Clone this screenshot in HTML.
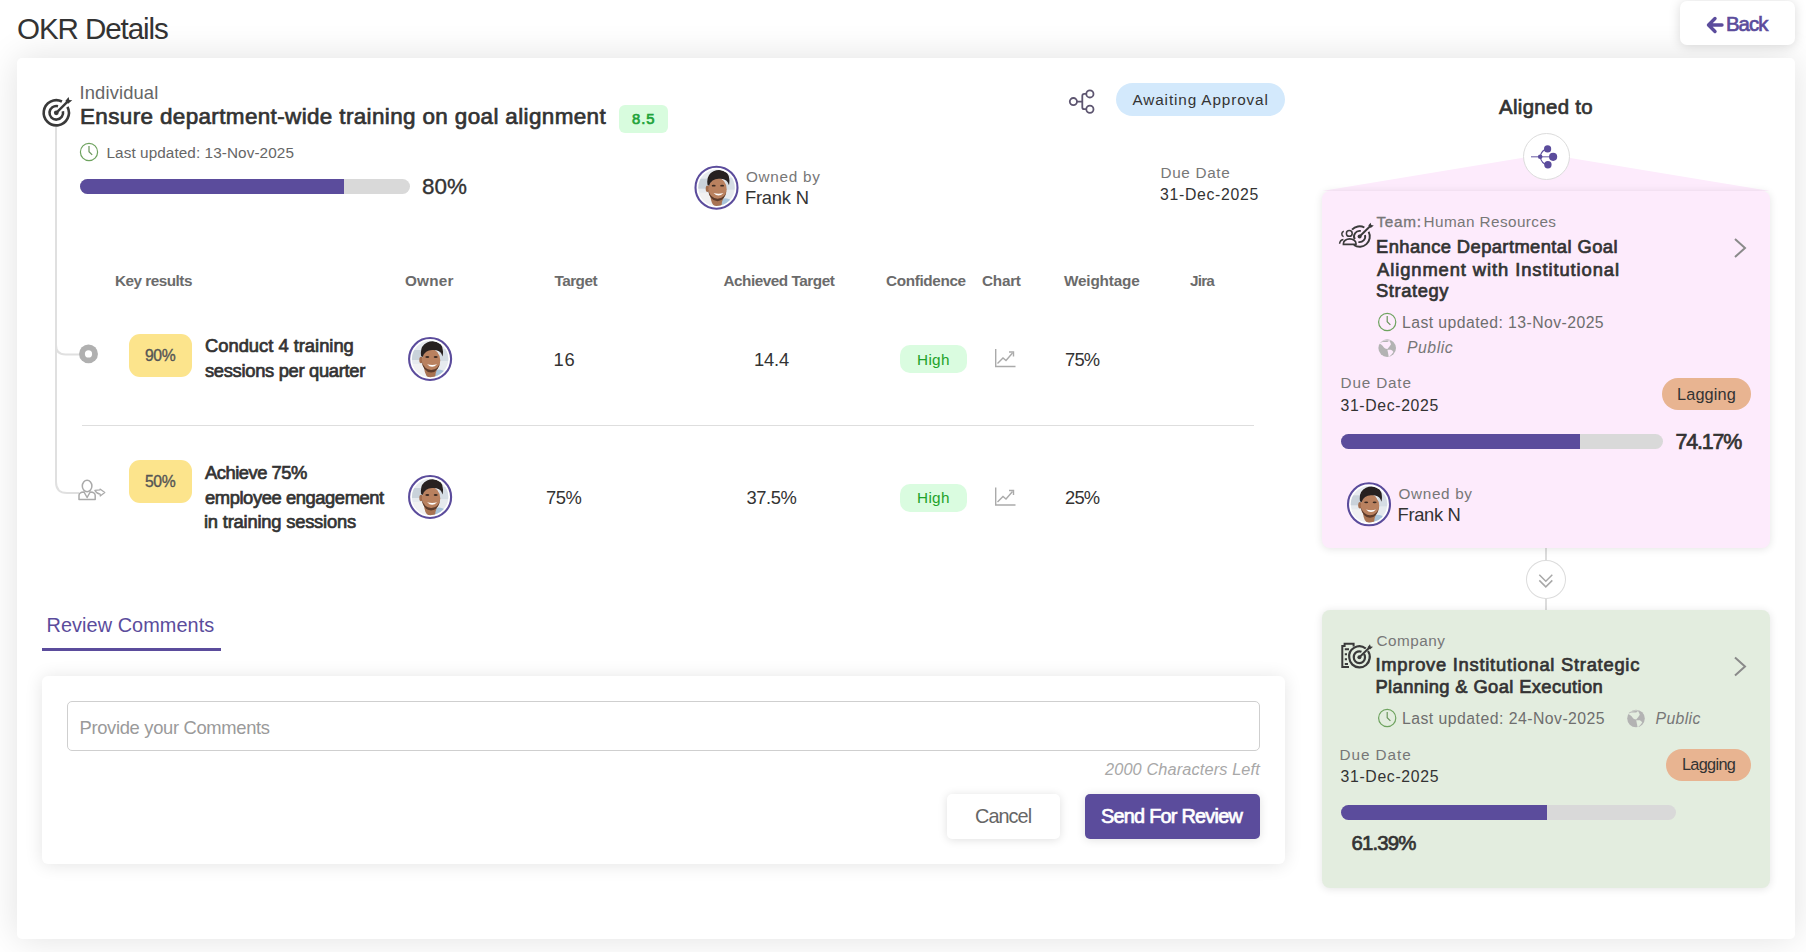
<!DOCTYPE html>
<html><head><meta charset="utf-8"><title>OKR Details</title>
<style>
html,body{margin:0;padding:0;}
body{width:1806px;height:952px;position:relative;overflow:hidden;background:#fff;font-family:"Liberation Sans", sans-serif;}
.a{position:absolute;box-sizing:border-box;}
.t{position:absolute;white-space:nowrap;}
svg{position:absolute;left:0;top:0;overflow:visible;}
</style></head><body>

<div class="a" style="left:17px;top:58px;width:1778px;height:881px;background:#fff;border-radius:5px;box-shadow:0 0 36px rgba(0,0,0,0.12);"></div>
<div class="a" style="left:1680px;top:1px;width:115px;height:44px;background:#fff;border-radius:7px;box-shadow:0 1px 12px rgba(0,0,0,0.15);"></div>
<div class="a" style="left:619px;top:105px;width:49px;height:28px;background:#d8fcde;border-radius:6px;"></div>
<div class="a" style="left:80px;top:179px;width:330px;height:15px;background:#d9d9d9;border-radius:8px;overflow:hidden;"><div class="a" style="left:0;top:0;width:264px;height:15px;background:#5b4c9c;"></div></div>
<div class="a" style="left:1116px;top:83px;width:169px;height:33px;background:#d3e9fc;border-radius:17px;"></div>
<div class="a" style="left:82px;top:425px;width:1172px;height:1px;background:#dedede;"></div>
<div class="a" style="left:129px;top:334px;width:63px;height:43px;background:#fce48c;border-radius:11px;"></div>
<div class="a" style="left:129px;top:460px;width:63px;height:43px;background:#fce48c;border-radius:11px;"></div>
<div class="a" style="left:900px;top:345px;width:67px;height:28px;background:#dafce0;border-radius:10px;"></div>
<div class="a" style="left:900px;top:484px;width:67px;height:28px;background:#dafce0;border-radius:10px;"></div>
<div class="a" style="left:42px;top:648px;width:179px;height:3px;background:#5b4c9c;"></div>
<div class="a" style="left:42px;top:676px;width:1243px;height:188px;background:#fff;border-radius:6px;box-shadow:0 1px 18px rgba(0,0,0,0.11);"></div>
<div class="a" style="left:67px;top:701px;width:1193px;height:50px;background:#fff;border:1.5px solid #cfcfcf;border-radius:5px;"></div>
<div class="a" style="left:947px;top:794px;width:113px;height:45px;background:#fff;border-radius:5px;box-shadow:0 1px 10px rgba(0,0,0,0.13);"></div>
<div class="a" style="left:1085px;top:794px;width:175px;height:45px;background:#5b4c9c;border-radius:5px;box-shadow:0 1px 10px rgba(0,0,0,0.12);"></div>
<svg width="1806" height="952" viewBox="0 0 1806 952">
<polygon points="1546,154 1770,191 1322,191" fill="#fdebfc"/>
<path d="M1546,548 V610" stroke="#d0d0d0" stroke-width="1.5"/>
</svg>
<div class="a" style="left:1322px;top:191px;width:448px;height:357px;background:#fdebfc;border-radius:8px;box-shadow:0 1px 9px rgba(0,0,0,0.11);"></div>
<div class="a" style="left:1322px;top:610px;width:448px;height:278px;background:#e3eddf;border-radius:8px;box-shadow:0 1px 9px rgba(0,0,0,0.11);"></div>
<div class="a" style="left:1522.5px;top:133px;width:47px;height:47px;background:#fff;border:1px solid #dcdcdc;border-radius:50%;"></div>
<div class="a" style="left:1526px;top:559.5px;width:40px;height:39.5px;background:#fff;border:1px solid #dcdcdc;border-radius:50%;"></div>
<div class="a" style="left:1662px;top:378px;width:89px;height:32px;background:#e8b491;border-radius:16px;"></div>
<div class="a" style="left:1666px;top:749px;width:85px;height:32px;background:#e8b491;border-radius:16px;"></div>
<div class="a" style="left:1341px;top:434px;width:322px;height:15px;background:#d9d9d9;border-radius:8px;overflow:hidden;"><div class="a" style="left:0;top:0;width:239px;height:15px;background:#5b4c9c;"></div></div>
<div class="a" style="left:1341px;top:805px;width:335px;height:15px;background:#d9d9d9;border-radius:8px;overflow:hidden;"><div class="a" style="left:0;top:0;width:206px;height:15px;background:#5b4c9c;"></div></div>
<svg width="1806" height="952" viewBox="0 0 1806 952"><path d="M1715,18.5 L1708.5,25 L1715,31.5 M1709,25 H1722" fill="none" stroke="#5b4c9c" stroke-width="3.4" stroke-linecap="round" stroke-linejoin="round"/>
<g transform="translate(56.3,112.8) scale(1.0)" fill="none" stroke="#3a3a3a">
<path d="M11.15,-5.86 A12.6,12.6 0 1 1 5.64,-11.27" stroke-width="2.6"/>
<path d="M6.61,-1.59 A6.8,6.8 0 1 1 1.69,-6.59" stroke-width="2.6"/>
<circle r="2.4" fill="#3a3a3a" stroke="none"/>
<path d="M0,0 L11.5,-11.5" stroke-width="2.4"/>
<path d="M9,-11.8 L12.3,-15.8 L13,-12.8 L16,-12.5 L11.8,-9Z" fill="#3a3a3a" stroke="none"/>
</g>
<path d="M56,127 V482 Q56,493 67,493 H79 M56,345 Q56,354.5 65.5,354.5 H80" fill="none" stroke="#e0e0e0" stroke-width="2"/>
<g transform="translate(89,152)"><circle r="8.6" fill="none" stroke="#6ea35f" stroke-width="1.2"/>
<path d="M0,-5.9 V-0.2 L3.2,2.9" fill="none" stroke="#6a955c" stroke-width="1.2"/></g>
<g transform="translate(716.5,187.7)">
<circle r="21" fill="#fff" stroke="#5b4c9c" stroke-width="2.1"/>
<clipPath id="av1"><circle r="18.2"/></clipPath>
<g clip-path="url(#av1)">
<rect x="-19" y="-19" width="38" height="38" fill="#e6eaee"/>
<rect x="-19" y="-9" width="12" height="10" fill="#c9d2da"/>
<rect x="-19" y="5" width="16" height="14" fill="#f1f1f1"/>
<rect x="9" y="-10" width="10" height="12" fill="#d5dde4"/>
<path d="M0,19 L3,12 Q9,9 14,12 L18,19Z" fill="#a9c4da"/>
<path d="M-6,9 Q-5,19 1,19 L5,19 Q5,14 7,10 Z" fill="#a87352"/>
<ellipse cx="-9" cy="1" rx="1.8" ry="3.2" fill="#a26c4c"/>
<ellipse cx="1" cy="1.5" rx="9.2" ry="11.2" fill="#b9815f"/>
<path d="M-8.5,2 Q-7,13 1,13.5 Q9,13 10,2 Q9,10.5 1,11 Q-6,10.5 -8.5,2Z" fill="#5c3b2b"/>
<path d="M-3,5.2 Q2,10.2 7,5.2 Q2,6.8 -3,5.2Z" fill="#fff"/>
<ellipse cx="-2.8" cy="-2" rx="2" ry="0.9" fill="#3b2a22"/>
<ellipse cx="5.6" cy="-2" rx="2" ry="0.9" fill="#3b2a22"/>
<path d="M-9,-3 Q-10.5,-13 -3,-16.5 Q4,-19.5 10.5,-15 Q14,-11 12.5,-2.5 L11.2,-5.5 Q9,-9.5 2,-9 Q-5,-9 -7.5,-2 Z" fill="#272120"/>
</g></g>
<g fill="none" stroke="#5d5570" stroke-width="1.8"><circle cx="1073.4" cy="101.6" r="3.6"/><circle cx="1089.9" cy="93.9" r="3.6"/><circle cx="1089.9" cy="109.2" r="3.6"/><path d="M1077,101.6 H1082.3 M1086.3,93.9 H1084.3 Q1082.3,93.9 1082.3,95.9 V107.2 Q1082.3,109.2 1084.3,109.2 H1086.3"/></g>
<circle cx="88.5" cy="353.9" r="9.45" fill="#b0b0b0"/><circle cx="88.5" cy="353.9" r="3.6" fill="#fff"/>
<g fill="none" stroke="#aaa" stroke-width="1.5"><ellipse cx="87.1" cy="486" rx="4.8" ry="5.8"/><path d="M79,499.6 V495.5 Q79,492.2 84,492 L87.1,497.5 L90.2,492 Q95.2,492.2 95.2,495.5 V499.6Z" stroke-linejoin="round"/><path d="M94.8,490.4 L100,489.8 V489 L104.8,492.6 L100.2,496 V494 Q97,494 94.8,490.4Z" stroke-width="1.2" stroke-linejoin="round"/></g>
<g transform="translate(430.1,359)">
<circle r="21" fill="#fff" stroke="#5b4c9c" stroke-width="2.1"/>
<clipPath id="av2"><circle r="18.2"/></clipPath>
<g clip-path="url(#av2)">
<rect x="-19" y="-19" width="38" height="38" fill="#e6eaee"/>
<rect x="-19" y="-9" width="12" height="10" fill="#c9d2da"/>
<rect x="-19" y="5" width="16" height="14" fill="#f1f1f1"/>
<rect x="9" y="-10" width="10" height="12" fill="#d5dde4"/>
<path d="M0,19 L3,12 Q9,9 14,12 L18,19Z" fill="#a9c4da"/>
<path d="M-6,9 Q-5,19 1,19 L5,19 Q5,14 7,10 Z" fill="#a87352"/>
<ellipse cx="-9" cy="1" rx="1.8" ry="3.2" fill="#a26c4c"/>
<ellipse cx="1" cy="1.5" rx="9.2" ry="11.2" fill="#b9815f"/>
<path d="M-8.5,2 Q-7,13 1,13.5 Q9,13 10,2 Q9,10.5 1,11 Q-6,10.5 -8.5,2Z" fill="#5c3b2b"/>
<path d="M-3,5.2 Q2,10.2 7,5.2 Q2,6.8 -3,5.2Z" fill="#fff"/>
<ellipse cx="-2.8" cy="-2" rx="2" ry="0.9" fill="#3b2a22"/>
<ellipse cx="5.6" cy="-2" rx="2" ry="0.9" fill="#3b2a22"/>
<path d="M-9,-3 Q-10.5,-13 -3,-16.5 Q4,-19.5 10.5,-15 Q14,-11 12.5,-2.5 L11.2,-5.5 Q9,-9.5 2,-9 Q-5,-9 -7.5,-2 Z" fill="#272120"/>
</g></g>
<g transform="translate(430.1,497)">
<circle r="21" fill="#fff" stroke="#5b4c9c" stroke-width="2.1"/>
<clipPath id="av3"><circle r="18.2"/></clipPath>
<g clip-path="url(#av3)">
<rect x="-19" y="-19" width="38" height="38" fill="#e6eaee"/>
<rect x="-19" y="-9" width="12" height="10" fill="#c9d2da"/>
<rect x="-19" y="5" width="16" height="14" fill="#f1f1f1"/>
<rect x="9" y="-10" width="10" height="12" fill="#d5dde4"/>
<path d="M0,19 L3,12 Q9,9 14,12 L18,19Z" fill="#a9c4da"/>
<path d="M-6,9 Q-5,19 1,19 L5,19 Q5,14 7,10 Z" fill="#a87352"/>
<ellipse cx="-9" cy="1" rx="1.8" ry="3.2" fill="#a26c4c"/>
<ellipse cx="1" cy="1.5" rx="9.2" ry="11.2" fill="#b9815f"/>
<path d="M-8.5,2 Q-7,13 1,13.5 Q9,13 10,2 Q9,10.5 1,11 Q-6,10.5 -8.5,2Z" fill="#5c3b2b"/>
<path d="M-3,5.2 Q2,10.2 7,5.2 Q2,6.8 -3,5.2Z" fill="#fff"/>
<ellipse cx="-2.8" cy="-2" rx="2" ry="0.9" fill="#3b2a22"/>
<ellipse cx="5.6" cy="-2" rx="2" ry="0.9" fill="#3b2a22"/>
<path d="M-9,-3 Q-10.5,-13 -3,-16.5 Q4,-19.5 10.5,-15 Q14,-11 12.5,-2.5 L11.2,-5.5 Q9,-9.5 2,-9 Q-5,-9 -7.5,-2 Z" fill="#272120"/>
</g></g>
<g transform="translate(995,349)" fill="none" stroke="#aaa" stroke-width="1.4">
<path d="M0.7,0 V17.5 H20.5"/>
<path d="M2.5,14.5 L8,9 L11,11.5 L17.5,4"/>
<path d="M14,3 H18.5 V7.5"/></g>
<g transform="translate(995,487.5)" fill="none" stroke="#aaa" stroke-width="1.4">
<path d="M0.7,0 V17.5 H20.5"/>
<path d="M2.5,14.5 L8,9 L11,11.5 L17.5,4"/>
<path d="M14,3 H18.5 V7.5"/></g>
<g fill="#5b4c9c"><path d="M1531,156.8 H1551" stroke="#5b4c9c" stroke-width="1.1" opacity="0.85"/><path d="M1540.2,156.8 Q1541.5,149.5 1547.6,148.9 M1540.2,156.8 Q1541.5,164.2 1547.9,164.7" fill="none" stroke="#5b4c9c" stroke-width="1.1"/><circle cx="1540.2" cy="156.8" r="2.3"/><circle cx="1547.6" cy="148.9" r="3.6"/><circle cx="1553.1" cy="156.8" r="4.1"/><circle cx="1547.9" cy="164.7" r="3.7"/></g>
<g fill="none" stroke="#3a3a3a" stroke-width="1.9">
<path d="M1352.02,229.67 A10.2,10.2 0 0 1 1364.39,227.49"/>
<path d="M1368.61,231.71 A10.2,10.2 0 0 1 1353.90,244.96"/>
<path d="M1354.75,239.30 A5.6,5.6 0 0 1 1360.76,231.02"/>
<path d="M1365.01,235.05 A5.6,5.6 0 0 1 1358.44,241.98"/>
<circle cx="1359.6" cy="236.5" r="2" fill="#3a3a3a" stroke="none"/>
<path d="M1359.6,236.5 L1370.3,226" stroke-width="1.9"/>
<path d="M1368.3,225.6 L1370.6,222.8 L1371.3,225.1 L1373.8,225.4 L1370.8,228Z" fill="#3a3a3a" stroke="none"/>
<circle cx="1349.3" cy="233.4" r="2.9" stroke-width="1.5"/>
<path d="M1343.6,236.6 A2.8,2.8 0 0 1 1343.8,231.3" stroke-width="1.5"/>
<path d="M1343.4,244.4 V243.5 A6.3,4.6 0 0 1 1356,243.5 V244.4Z" stroke-width="1.6"/>
<path d="M1339.6,243.8 Q1339.8,240 1343.4,239.4" stroke-width="1.5"/>
</g>
<path d="M1735,239 L1745,248 L1735,257" fill="none" stroke="#8a8a8a" stroke-width="2"/>
<g transform="translate(1387.2,322)"><circle r="8.6" fill="none" stroke="#6ea35f" stroke-width="1.2"/>
<path d="M0,-5.9 V-0.2 L3.2,2.9" fill="none" stroke="#6a955c" stroke-width="1.2"/></g>
<g transform="translate(1387.2,348.1)"><circle r="8.8" fill="#b3b3b3"/>
<path d="M-7.6,-4.6 Q-6,-6.3 -4.2,-6.1 L0,-6.1 Q1.2,-6.6 1.9,-7.6 Q3.2,-6 3.8,-3.8 Q2.8,-2.2 1.9,-1 L0.2,1 Q-1.4,1 -2.4,0.2 Q-3.6,-0.9 -4.4,-2.2 Q-5.4,-3.4 -7.6,-4.6Z" fill="#fdebfc"/>
<path d="M0.2,1.7 L3.8,1.7 Q5.6,2.6 6.2,4 Q5.4,5.4 4.3,6.5 Q3,7.8 1.7,9 Q1.2,7.3 1,5.7 Q0.6,3.8 0.2,1.7Z" fill="#fdebfc"/>
<path d="M-6.8,-6 Q-2,-9.5 4,-7.6 L2.2,-7.2 Q-1,-8.3 -6.8,-6Z" fill="#fdebfc" opacity="0.6"/>
</g>
<g transform="translate(1369,504.3)">
<circle r="21" fill="#fff" stroke="#5b4c9c" stroke-width="2.1"/>
<clipPath id="av4"><circle r="18.2"/></clipPath>
<g clip-path="url(#av4)">
<rect x="-19" y="-19" width="38" height="38" fill="#e6eaee"/>
<rect x="-19" y="-9" width="12" height="10" fill="#c9d2da"/>
<rect x="-19" y="5" width="16" height="14" fill="#f1f1f1"/>
<rect x="9" y="-10" width="10" height="12" fill="#d5dde4"/>
<path d="M0,19 L3,12 Q9,9 14,12 L18,19Z" fill="#a9c4da"/>
<path d="M-6,9 Q-5,19 1,19 L5,19 Q5,14 7,10 Z" fill="#a87352"/>
<ellipse cx="-9" cy="1" rx="1.8" ry="3.2" fill="#a26c4c"/>
<ellipse cx="1" cy="1.5" rx="9.2" ry="11.2" fill="#b9815f"/>
<path d="M-8.5,2 Q-7,13 1,13.5 Q9,13 10,2 Q9,10.5 1,11 Q-6,10.5 -8.5,2Z" fill="#5c3b2b"/>
<path d="M-3,5.2 Q2,10.2 7,5.2 Q2,6.8 -3,5.2Z" fill="#fff"/>
<ellipse cx="-2.8" cy="-2" rx="2" ry="0.9" fill="#3b2a22"/>
<ellipse cx="5.6" cy="-2" rx="2" ry="0.9" fill="#3b2a22"/>
<path d="M-9,-3 Q-10.5,-13 -3,-16.5 Q4,-19.5 10.5,-15 Q14,-11 12.5,-2.5 L11.2,-5.5 Q9,-9.5 2,-9 Q-5,-9 -7.5,-2 Z" fill="#272120"/>
</g></g>
<path d="M1539.3,574.8 L1545.8,581.3 L1552.3,574.8 M1539.3,580.4 L1545.8,586.9 L1552.3,580.4" fill="none" stroke="#a8a8a8" stroke-width="1.5"/>
<g fill="none" stroke="#3a3a3a" stroke-width="2">
<path d="M1349,667 H1342.3 V646 H1344.6 V643.8 H1353.6 V646.5"/>
<path d="M1344.8,649.3 H1349 M1344.8,654.2 H1347 M1344.8,659.2 H1347 M1344.8,664 H1348"/>
<path d="M1365.8,648.5 A10.2,10.2 0 0 0 1349.3,658 A10.2,10.2 0 0 0 1369.6,658.5 A10,10 0 0 0 1368,651" stroke-width="2.2"/>
<path d="M1361.5,651.8 A5.6,5.6 0 0 0 1353.8,657.5 A5.6,5.6 0 0 0 1365,657.5 A5.6,5.6 0 0 0 1364,654" stroke-width="2.2"/>
<circle cx="1359.4" cy="657.3" r="2" fill="#3a3a3a" stroke="none"/>
<path d="M1359.4,657.3 L1369.5,647.5" stroke-width="1.9"/>
<path d="M1367.5,647.3 L1370,644.3 L1370.6,646.6 L1373,646.8 L1370,649.5Z" fill="#3a3a3a" stroke="none"/>
</g>
<path d="M1735,657.5 L1745,666.5 L1735,675.5" fill="none" stroke="#8a8a8a" stroke-width="2"/>
<g transform="translate(1387.2,718)"><circle r="8.6" fill="none" stroke="#6ea35f" stroke-width="1.2"/>
<path d="M0,-5.9 V-0.2 L3.2,2.9" fill="none" stroke="#6a955c" stroke-width="1.2"/></g>
<g transform="translate(1636,718.5)"><circle r="8.8" fill="#b3b3b3"/>
<path d="M-7.6,-4.6 Q-6,-6.3 -4.2,-6.1 L0,-6.1 Q1.2,-6.6 1.9,-7.6 Q3.2,-6 3.8,-3.8 Q2.8,-2.2 1.9,-1 L0.2,1 Q-1.4,1 -2.4,0.2 Q-3.6,-0.9 -4.4,-2.2 Q-5.4,-3.4 -7.6,-4.6Z" fill="#e3eddf"/>
<path d="M0.2,1.7 L3.8,1.7 Q5.6,2.6 6.2,4 Q5.4,5.4 4.3,6.5 Q3,7.8 1.7,9 Q1.2,7.3 1,5.7 Q0.6,3.8 0.2,1.7Z" fill="#e3eddf"/>
<path d="M-6.8,-6 Q-2,-9.5 4,-7.6 L2.2,-7.2 Q-1,-8.3 -6.8,-6Z" fill="#e3eddf" opacity="0.6"/>
</g></svg>
<div class="t" style="left:17.00px;top:14.00px;font-size:29.58px;line-height:29.58px;color:#333;letter-spacing:-1.100px">OKR Details</div>
<div class="t" style="left:1726.00px;top:14.00px;font-size:20.4px;line-height:20.4px;color:#5b4c9c;letter-spacing:-1.000px;-webkit-text-stroke:0.7px #5b4c9c">Back</div>
<div class="t" style="left:79.50px;top:84.00px;font-size:18.36px;line-height:18.36px;color:#666;letter-spacing:0.133px">Individual</div>
<div class="t" style="left:80.00px;top:106.00px;font-size:22.44px;line-height:22.44px;color:#333;letter-spacing:0.375px;-webkit-text-stroke:0.7px #333">Ensure department-wide training on goal alignment</div>
<div class="t" style="left:632.00px;top:112.00px;font-size:14.79px;line-height:14.79px;color:#22a33a;letter-spacing:1.000px;-webkit-text-stroke:0.7px #22a33a">8.5</div>
<div class="t" style="left:106.50px;top:145.00px;font-size:15.3px;line-height:15.3px;color:#666;letter-spacing:0.083px">Last updated: 13-Nov-2025</div>
<div class="t" style="left:422.00px;top:176.00px;font-size:22.44px;line-height:22.44px;color:#333;letter-spacing:0.000px;-webkit-text-stroke:0.35px #333">80%</div>
<div class="t" style="left:746.00px;top:169.00px;font-size:15.3px;line-height:15.3px;color:#777;letter-spacing:0.714px">Owned by</div>
<div class="t" style="left:745.00px;top:189.00px;font-size:18.36px;line-height:18.36px;color:#333;letter-spacing:-0.233px">Frank N</div>
<div class="t" style="left:1132.50px;top:92.00px;font-size:15.3px;line-height:15.3px;color:#333;letter-spacing:0.875px">Awaiting Approval</div>
<div class="t" style="left:1160.50px;top:165.00px;font-size:15.3px;line-height:15.3px;color:#777;letter-spacing:0.657px">Due Date</div>
<div class="t" style="left:1160.00px;top:187.00px;font-size:15.81px;line-height:15.81px;color:#333;letter-spacing:0.700px">31-Dec-2025</div>
<div class="t" style="left:115.00px;top:273.00px;font-size:15.3px;line-height:15.3px;color:#6b6b6b;letter-spacing:-0.500px;font-weight:700">Key results</div>
<div class="t" style="left:405.00px;top:273.00px;font-size:15.3px;line-height:15.3px;color:#6b6b6b;letter-spacing:0.200px;font-weight:700">Owner</div>
<div class="t" style="left:554.50px;top:273.00px;font-size:15.3px;line-height:15.3px;color:#6b6b6b;letter-spacing:-0.520px;font-weight:700">Target</div>
<div class="t" style="left:723.50px;top:273.00px;font-size:15.3px;line-height:15.3px;color:#6b6b6b;letter-spacing:-0.471px;font-weight:700">Achieved Target</div>
<div class="t" style="left:886.00px;top:273.00px;font-size:15.3px;line-height:15.3px;color:#6b6b6b;letter-spacing:-0.356px;font-weight:700">Confidence</div>
<div class="t" style="left:982.00px;top:273.00px;font-size:15.3px;line-height:15.3px;color:#6b6b6b;letter-spacing:-0.250px;font-weight:700">Chart</div>
<div class="t" style="left:1064.00px;top:273.00px;font-size:15.3px;line-height:15.3px;color:#6b6b6b;letter-spacing:-0.175px;font-weight:700">Weightage</div>
<div class="t" style="left:1190.00px;top:273.00px;font-size:15.3px;line-height:15.3px;color:#6b6b6b;letter-spacing:-0.800px;font-weight:700">Jira</div>
<div class="t" style="left:145.00px;top:348.00px;font-size:15.71px;line-height:15.71px;color:#555;letter-spacing:-0.400px;-webkit-text-stroke:0.35px #555">90%</div>
<div class="t" style="left:205.00px;top:337.00px;font-size:18.36px;line-height:18.36px;color:#333;letter-spacing:-0.012px;-webkit-text-stroke:0.7px #333">Conduct 4 training</div>
<div class="t" style="left:205.00px;top:362.00px;font-size:18.36px;line-height:18.36px;color:#333;letter-spacing:-0.316px;-webkit-text-stroke:0.7px #333">sessions per quarter</div>
<div class="t" style="left:553.50px;top:351.00px;font-size:18.36px;line-height:18.36px;color:#333;letter-spacing:0.800px">16</div>
<div class="t" style="left:754.00px;top:351.00px;font-size:18.36px;line-height:18.36px;color:#333;letter-spacing:-0.200px">14.4</div>
<div class="t" style="left:917.00px;top:352.00px;font-size:15.3px;line-height:15.3px;color:#1fa32a;letter-spacing:0.333px">High</div>
<div class="t" style="left:1065.00px;top:351.00px;font-size:18.36px;line-height:18.36px;color:#333;letter-spacing:-0.800px">75%</div>
<div class="t" style="left:145.00px;top:474.00px;font-size:15.71px;line-height:15.71px;color:#555;letter-spacing:-0.400px;-webkit-text-stroke:0.35px #555">50%</div>
<div class="t" style="left:205.00px;top:464.00px;font-size:18.36px;line-height:18.36px;color:#333;letter-spacing:-0.480px;-webkit-text-stroke:0.7px #333">Achieve 75%</div>
<div class="t" style="left:205.00px;top:489.00px;font-size:18.36px;line-height:18.36px;color:#333;letter-spacing:-0.422px;-webkit-text-stroke:0.7px #333">employee engagement</div>
<div class="t" style="left:204.00px;top:513.00px;font-size:18.36px;line-height:18.36px;color:#333;letter-spacing:-0.211px;-webkit-text-stroke:0.7px #333">in training sessions</div>
<div class="t" style="left:546.00px;top:489.00px;font-size:18.36px;line-height:18.36px;color:#333;letter-spacing:-0.400px">75%</div>
<div class="t" style="left:746.50px;top:489.00px;font-size:18.36px;line-height:18.36px;color:#333;letter-spacing:-0.450px">37.5%</div>
<div class="t" style="left:917.00px;top:490.00px;font-size:15.3px;line-height:15.3px;color:#1fa32a;letter-spacing:0.333px">High</div>
<div class="t" style="left:1065.00px;top:489.00px;font-size:18.36px;line-height:18.36px;color:#333;letter-spacing:-0.800px">25%</div>
<div class="t" style="left:46.50px;top:616.00px;font-size:19.89px;line-height:19.89px;color:#5b4c9c;letter-spacing:0.071px">Review Comments</div>
<div class="t" style="left:79.50px;top:719.00px;font-size:18.36px;line-height:18.36px;color:#9a9a9a;letter-spacing:-0.320px">Provide your Comments</div>
<div class="t" style="left:1105.00px;top:761.00px;font-size:16.32px;line-height:16.32px;color:#a8a8a8;letter-spacing:0.126px;font-style:italic">2000 Characters Left</div>
<div class="t" style="left:975.00px;top:807.00px;font-size:19.89px;line-height:19.89px;color:#666;letter-spacing:-0.960px">Cancel</div>
<div class="t" style="left:1101.00px;top:807.00px;font-size:19.89px;line-height:19.89px;color:#ffffff;letter-spacing:-0.757px;-webkit-text-stroke:0.7px #ffffff">Send For Review</div>
<div class="t" style="left:1499.00px;top:97.00px;font-size:20.4px;line-height:20.4px;color:#333;letter-spacing:0.333px;-webkit-text-stroke:0.7px #333">Aligned to</div>
<div class="t" style="left:1376.50px;top:214.00px;font-size:15.3px;line-height:15.3px;color:#777;letter-spacing:0.700px;-webkit-text-stroke:0.35px #777">Team:</div>
<div class="t" style="left:1423.50px;top:214.00px;font-size:15.3px;line-height:15.3px;color:#777;letter-spacing:0.414px">Human Resources</div>
<div class="t" style="left:1376.00px;top:238.00px;font-size:18.36px;line-height:18.36px;color:#333;letter-spacing:0.408px;-webkit-text-stroke:0.7px #333">Enhance Departmental Goal</div>
<div class="t" style="left:1377.00px;top:261.00px;font-size:18.36px;line-height:18.36px;color:#333;letter-spacing:0.911px;-webkit-text-stroke:0.7px #333">Alignment with Institutional</div>
<div class="t" style="left:1376.00px;top:282.00px;font-size:18.36px;line-height:18.36px;color:#333;letter-spacing:0.571px;-webkit-text-stroke:0.7px #333">Strategy</div>
<div class="t" style="left:1402.00px;top:315.00px;font-size:15.81px;line-height:15.81px;color:#6e6e6e;letter-spacing:0.425px">Last updated: 13-Nov-2025</div>
<div class="t" style="left:1407.00px;top:340.00px;font-size:15.81px;line-height:15.81px;color:#777;letter-spacing:0.520px;font-style:italic">Public</div>
<div class="t" style="left:1340.50px;top:375.00px;font-size:15.3px;line-height:15.3px;color:#777;letter-spacing:0.829px">Due Date</div>
<div class="t" style="left:1340.50px;top:398.00px;font-size:15.81px;line-height:15.81px;color:#333;letter-spacing:0.640px">31-Dec-2025</div>
<div class="t" style="left:1677.00px;top:386.00px;font-size:16.32px;line-height:16.32px;color:#333;letter-spacing:0.133px">Lagging</div>
<div class="t" style="left:1675.50px;top:432.00px;font-size:21.42px;line-height:21.42px;color:#333;letter-spacing:-1.160px;-webkit-text-stroke:0.7px #333">74.17%</div>
<div class="t" style="left:1398.50px;top:486.00px;font-size:15.3px;line-height:15.3px;color:#777;letter-spacing:0.657px">Owned by</div>
<div class="t" style="left:1397.50px;top:506.00px;font-size:18.36px;line-height:18.36px;color:#333;letter-spacing:-0.333px">Frank N</div>
<div class="t" style="left:1376.50px;top:633.00px;font-size:15.3px;line-height:15.3px;color:#777;letter-spacing:0.500px">Company</div>
<div class="t" style="left:1375.50px;top:656.00px;font-size:18.36px;line-height:18.36px;color:#333;letter-spacing:0.733px;-webkit-text-stroke:0.7px #333">Improve Institutional Strategic</div>
<div class="t" style="left:1375.50px;top:678.00px;font-size:18.36px;line-height:18.36px;color:#333;letter-spacing:0.367px;-webkit-text-stroke:0.7px #333">Planning &amp; Goal Execution</div>
<div class="t" style="left:1402.00px;top:711.00px;font-size:15.81px;line-height:15.81px;color:#6e6e6e;letter-spacing:0.467px">Last updated: 24-Nov-2025</div>
<div class="t" style="left:1655.50px;top:711.00px;font-size:15.81px;line-height:15.81px;color:#777;letter-spacing:0.360px;font-style:italic">Public</div>
<div class="t" style="left:1339.50px;top:747.00px;font-size:15.3px;line-height:15.3px;color:#777;letter-spacing:0.943px">Due Date</div>
<div class="t" style="left:1340.50px;top:769.00px;font-size:15.81px;line-height:15.81px;color:#333;letter-spacing:0.660px">31-Dec-2025</div>
<div class="t" style="left:1682.00px;top:756.00px;font-size:16.32px;line-height:16.32px;color:#333;letter-spacing:-0.700px">Lagging</div>
<div class="t" style="left:1351.50px;top:833.00px;font-size:20.4px;line-height:20.4px;color:#333;letter-spacing:-0.880px;-webkit-text-stroke:0.7px #333">61.39%</div>
</body></html>
